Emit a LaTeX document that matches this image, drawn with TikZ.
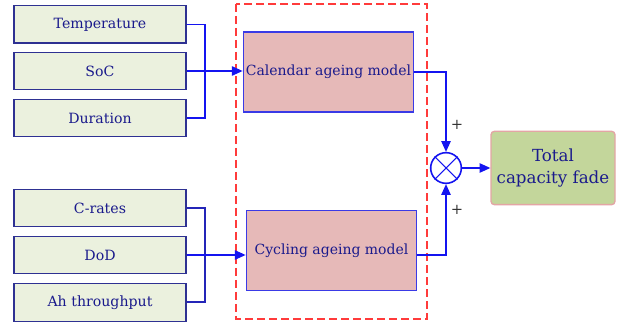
\documentclass[tikz,border=0pt]{standalone}
\usepackage{fontspec}
\setmainfont{DejaVu Serif}
\usetikzlibrary{arrows.meta}
\definecolor{inFill}{HTML}{EBF1DE}
\definecolor{inDraw}{HTML}{2E3192}
\definecolor{mdFill}{HTML}{E6B9B8}
\definecolor{mdDraw}{HTML}{3A3AE6}
\definecolor{txt}{HTML}{1A1A8C}
\definecolor{wire}{HTML}{1414F0}
\definecolor{grpRed}{HTML}{FF3B3B}
\definecolor{outFill}{HTML}{C3D69B}
\definecolor{outDraw}{HTML}{E3A5A5}
\tikzset{
  inbox/.style={draw=inDraw, line width=1pt, fill=inFill, minimum width=129pt, minimum height=28pt,
    inner sep=0pt, text=txt, font=\fontsize{10.6}{12}\selectfont},
  modelbox/.style={draw=mdDraw, line width=0.8pt, fill=mdFill, minimum width=128pt, minimum height=60pt,
    inner sep=0pt, text=txt, font=\fontsize{10.5}{12}\selectfont},
  wireline/.style={draw=wire, line width=1pt},
  arr/.style={wireline, -{Triangle[length=8pt, width=7pt]}},
  plus/.style={font=\fontsize{11}{12}\selectfont, text=black!80, inner sep=0pt}
}
\begin{document}
\begin{tikzpicture}[x=0.75pt, y=-0.75pt]
\useasboundingbox (0,0) rectangle (631,327);
% grouping frame round the two models
\draw[grpRed, line width=1pt, dash pattern=on 6pt off 3pt] (236,4) rectangle (427,319);
% inputs
\node[inbox] (temp) at (100,24.5) {Temperature};
\node[inbox] (soc)  at (100,71) {SoC};
\node[inbox] (dur)  at (100,118) {Duration};
\node[inbox] (crate) at (100,208) {C-rates};
\node[inbox] (dod)   at (100,255) {DoD};
\node[inbox] (ah)    at (100,302.5) {Ah throughput};
% models
\node[modelbox] (cal) at (328.5,72) {Calendar ageing model};
\node[modelbox] (cyc) at (331.5,250.5) {Cycling ageing model};
% summing junction
\node[draw=wire, line width=1.2pt, circle, minimum size=23pt, inner sep=0pt] (sum) at (446,168) {};
\draw[wire, line width=0.8pt] (sum.north west) -- (sum.south east) (sum.north east) -- (sum.south west);
% output
\node[draw=outDraw, line width=1pt, fill=outFill, rounded corners=2.5pt, minimum width=93pt, minimum height=55pt,
  inner sep=0pt, align=center, text=txt, font=\fontsize{12.5}{16.5}\selectfont] (tot) at (553,168) {Total\\capacity fade};
% input brackets
\coordinate (jt) at (205,0);
\draw[wireline] (temp.east) -| (jt |- dur.east) -- (dur.east);
\draw[arr] (soc.east) -- (cal.west |- soc.east);
\draw[wireline, line width=1.5pt, draw=inDraw!60!wire] (crate.east) -| (jt |- ah.east) -- (ah.east);
\draw[arr] (dod.east) -- (cyc.west |- dod.east);
% model outputs into the junction
\draw[arr] (cal.east) -| (sum.north);
\draw[arr] (cyc.east |- dod.east) -| (sum.south);
\draw[arr] (sum.east) -- (tot.west);
\node[plus] (p1) at (457,125) {+};
\node[plus] (p2) at (457,210) {+};
\end{tikzpicture}
\end{document}
